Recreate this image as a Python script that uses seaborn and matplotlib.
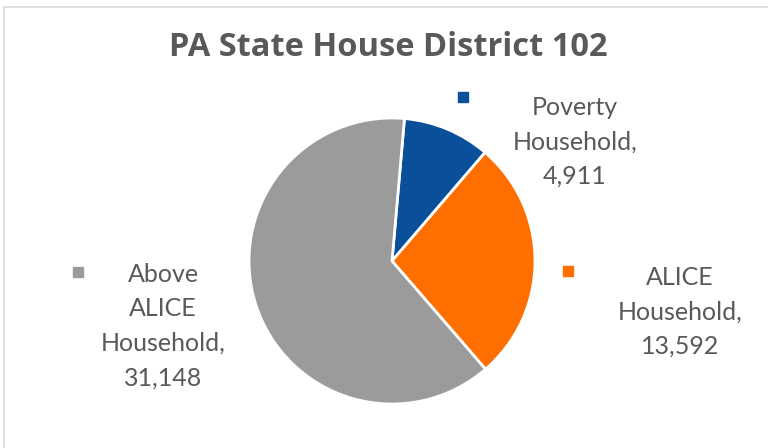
import matplotlib.pyplot as plt
import seaborn as sns
from matplotlib.patches import Rectangle

# data
categories = ["Poverty Household", "ALICE Household", "Above ALICE Household"]
households = [4911, 13592, 31148]
label_lines = ["Poverty\nHousehold,\n4,911", "ALICE\nHousehold,\n13,592", "Above\nALICE\nHousehold,\n31,148"]
colors = ["#0A4F9A", "#FF6F00", "#9B9B9B"]

sns.set_theme(style="white")
plt.rcParams["font.family"] = ["Lato", "DejaVu Sans"]

fig = plt.figure(figsize=(7.68, 4.48), dpi=100)
W, H = 768, 448

# pie centred at (392, 261) px with radius 143 px
ax = fig.add_axes([(392 - 143) / W, 1 - (261 + 143) / H, 286 / W, 286 / H])
ax.pie(households, colors=colors, startangle=85, counterclock=False,
       wedgeprops=dict(edgecolor="white", linewidth=2))
ax.set_xlim(-1, 1)
ax.set_ylim(-1, 1)
ax.set_aspect("equal")
ax.axis("off")

# chart border
fig.patches.append(Rectangle((4 / W, -0.1), 1.2, (448 - 7) / H + 0.1, transform=fig.transFigure,
                             fill=False, edgecolor="#D9D9D9", linewidth=1.2))

fig.text(388 / W, 1 - 48 / H, "PA State House District 102", ha="center", va="center",
         fontsize=23.5, fontweight="bold", color="#595959", family="Open Sans")

# data labels: (text centre x, first line y, marker x, marker y) in px
label_pos = [(575, 107, 463, 97), (680, 277, 568, 271), (163, 274, 78, 272)]
for txt, col, (tx, ty, mx, my) in zip(label_lines, colors, label_pos):
    fig.text(tx / W, 1 - (ty - 11) / H, txt, ha="center", va="top", fontsize=18,
             color="#595959", linespacing=1.6)
    fig.patches.append(Rectangle(((mx - 5) / W, 1 - (my + 5) / H), 10 / W, 10 / H,
                                 transform=fig.transFigure, color=col))

fig.savefig("out.png", dpi=100)
